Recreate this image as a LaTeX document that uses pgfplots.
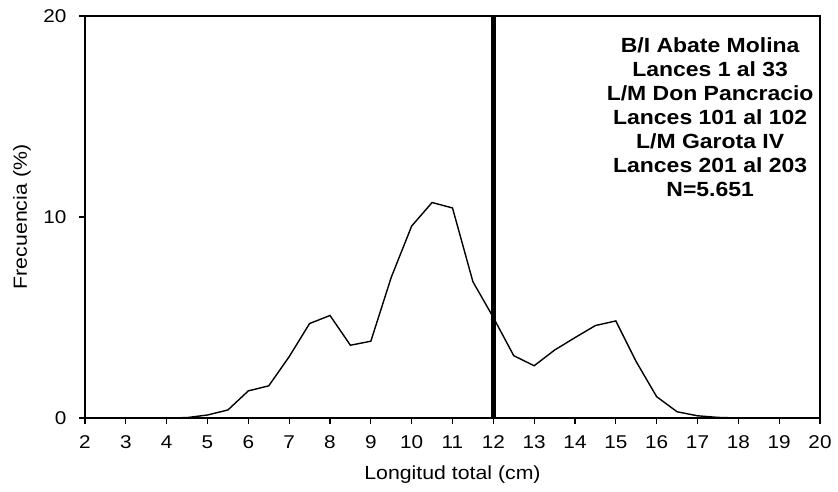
\documentclass[border=0pt]{standalone}
\usepackage{pgfplots}
\pgfplotsset{compat=1.18}
\usepackage{fontspec}
\setmainfont[FakeStretch=1.12]{Liberation Sans}
\begin{document}
\begin{tikzpicture}[x=1pt,y=1pt]
\useasboundingbox (0,0) rectangle (838,491);
\begin{axis}[
  at={(85pt,73pt)}, anchor=south west,
  scale only axis, width=735pt, height=402pt,
  xmin=2, xmax=20, ymin=0, ymax=20,
  xtick={2,3,...,20}, ytick={0,10,20},
  tick align=outside, tick pos=left,
  major tick length=6pt,
  axis line style={line width=1.3pt},
  every tick/.style={line width=1.2pt, black},
  /pgf/number format/assume math mode=true,
  tick label style={font=\fontsize{18.5}{21}\selectfont},
  xticklabel style={yshift=-8pt},
  yticklabel style={xshift=-9pt},
  clip=false,
]
\addplot[black, line width=1.4pt] coordinates {
(2,0) (2.5,0) (3,0) (3.5,0) (4,0) (4.5,0.02) (5,0.15) (5.5,0.4) (6,1.35) (6.5,1.6)
(7,3.05) (7.5,4.7) (8,5.1) (8.5,3.62) (9,3.82) (9.5,7.0) (10,9.55) (10.5,10.72)
(11,10.45) (11.5,6.78) (12,5.0) (12.5,3.1) (13,2.6) (13.5,3.38) (14,4.0) (14.5,4.6)
(15,4.83) (15.5,2.8) (16,1.06) (16.5,0.31) (17,0.11) (17.5,0.03) (18,0) (18.5,0)
(19,0) (19.5,0) (20,0)
};
\addplot[black, line width=4.5pt] coordinates {(12,0) (12,20)};
\node[align=center, font=\fontsize{20.5}{24}\bfseries\selectfont] at (axis cs:17.31,14.98)
 {B/I Abate Molina\\Lances 1 al 33\\L/M Don Pancracio\\Lances 101 al 102\\L/M Garota IV\\Lances 201 al 203\\N=5.651};
\node[font=\fontsize{19}{22}\selectfont, anchor=center, yshift=-57pt] at (rel axis cs:0.5,0) {Longitud total (cm)};
\node[font=\fontsize{19}{22}\selectfont, anchor=center, xshift=-63pt, rotate=90] at (rel axis cs:0,0.5) {Frecuencia (\%)};
\end{axis}
\end{tikzpicture}
\end{document}
